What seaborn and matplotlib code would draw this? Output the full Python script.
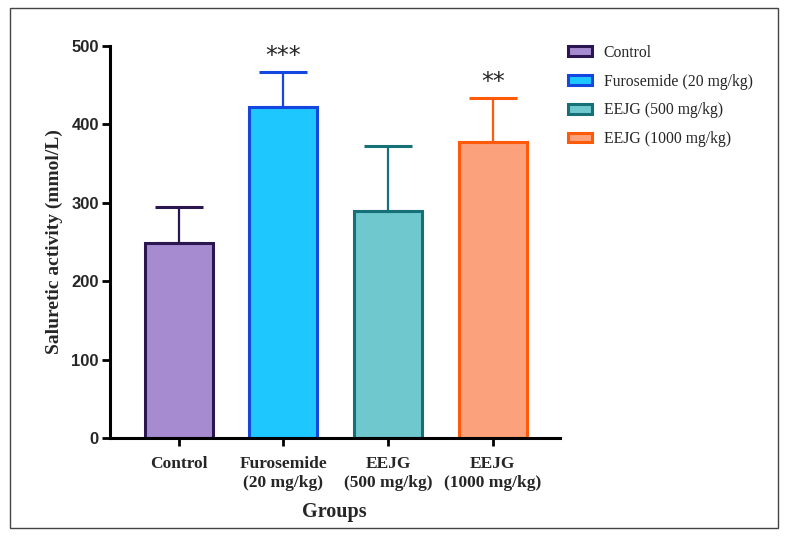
import matplotlib
matplotlib.use('Agg')
import matplotlib.pyplot as plt
from matplotlib.patches import Patch, Rectangle
import pandas as pd
import seaborn as sns

groups = ['Control', 'Furosemide (20 mg/kg)', 'EEJG (500 mg/kg)', 'EEJG (1000 mg/kg)']
tick_labels = ['Control', 'Furosemide\n(20 mg/kg)', 'EEJG\n(500 mg/kg)', 'EEJG\n(1000 mg/kg)']
means = [249, 422, 290, 377]
errors = [46, 45, 83, 57]
stars = ['', '***', '', '**']
fills = ['#A68BD1', '#1EC8FF', '#6FC8CE', '#FBA27D']
edges = ['#2B1650', '#1446E0', '#157078', '#FF5A0A']

data = pd.DataFrame({'group': groups, 'value': means})

sns.set_style('ticks')
plt.rcParams['font.family'] = ['Liberation Serif', 'DejaVu Serif']

fig = plt.figure(figsize=(7.85, 5.36), dpi=100)
ax = fig.add_axes([0.140, 0.183, 0.573, 0.731])

sns.barplot(x='group', y='value', hue='group', data=data, order=groups, hue_order=groups,
            palette=fills, saturation=1, dodge=False, width=0.65, legend=False, ax=ax)
for bar, ec in zip(ax.patches, edges):
    bar.set_edgecolor(ec)
    bar.set_linewidth(2.2)

for i, (m, e, c) in enumerate(zip(means, errors, edges)):
    ax.errorbar(i, m, yerr=[[0], [e]], fmt='none', ecolor=c, elinewidth=1.6,
                capsize=17, capthick=2.2, zorder=1)
    if stars[i]:
        ax.text(i, m + e + 5, stars[i], ha='center', va='bottom', fontsize=17,
                family='DejaVu Sans')

ax.set_ylim(0, 500)
ax.set_xlim(-0.657, 3.64)
ax.set_yticks([0, 100, 200, 300, 400, 500])
ax.set_xticks(range(len(groups)))
ax.set_xticklabels(tick_labels, fontsize=12.5, fontweight='bold', linespacing=1.25)
for lab in ax.get_yticklabels():
    lab.set_family('Liberation Sans')
    lab.set_fontweight('bold')
    lab.set_fontsize(12)
ax.tick_params(axis='both', width=2, length=6, color='black')
ax.tick_params(axis='y', pad=2)
ax.tick_params(axis='x', pad=7)
for side in ['left', 'bottom']:
    ax.spines[side].set_linewidth(2.2)
    ax.spines[side].set_color('black')
sns.despine(ax=ax)

ax.set_xlabel('Groups', fontsize=14.5, fontweight='bold', labelpad=8)
ax.set_ylabel('Saluretic activity (mmol/L)', fontsize=14, fontweight='bold', labelpad=6)

handles = [Patch(facecolor=f, edgecolor=e, linewidth=2.2) for f, e in zip(fills, edges)]
fig.legend(handles, groups, loc='upper left', bbox_to_anchor=(0.706, 0.943), frameon=False,
           fontsize=11.3, handlelength=1.5, handleheight=0.55, labelspacing=0.82, handletextpad=0.75)

fig.patches.append(Rectangle((0.0127, 0.0149), 0.978, 0.970, transform=fig.transFigure,
                             fill=False, edgecolor='#444444', linewidth=1))

fig.savefig('out.png', dpi=100)
